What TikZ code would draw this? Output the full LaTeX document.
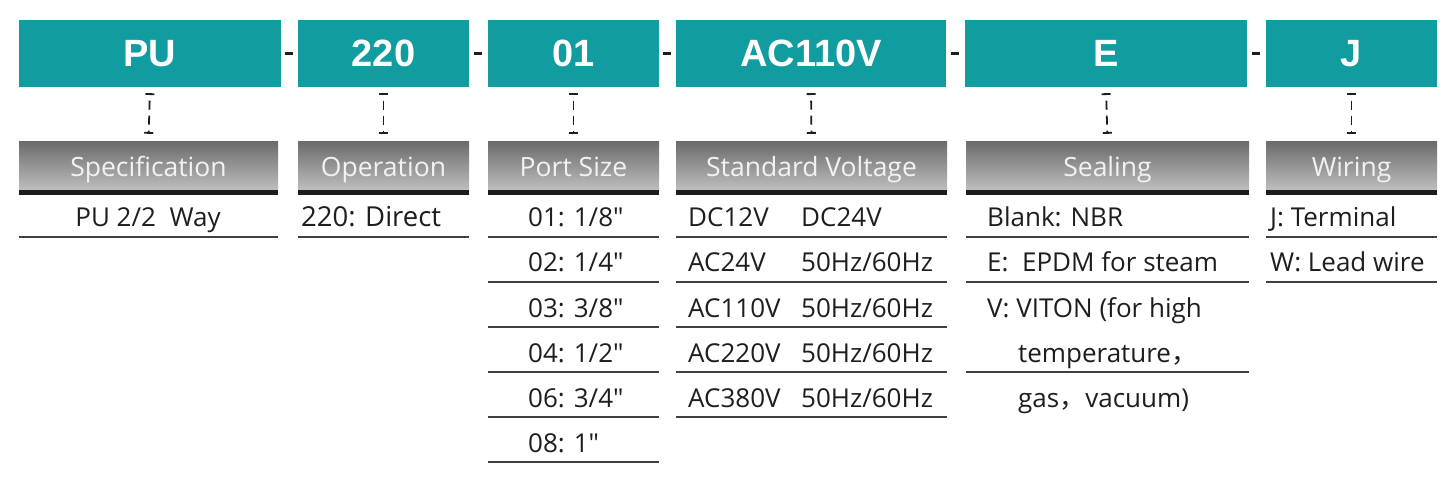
\documentclass[tikz,border=0pt]{standalone}
\usepackage{fontspec}
\setmainfont{Open Sans}
\newfontfamily\labfont{Liberation Sans}
\newfontfamily\cjk{Noto Sans CJK SC}
\usetikzlibrary{arrows.meta}
\definecolor{tealbg}{RGB}{17,156,159}
\definecolor{inkc}{RGB}{30,30,30}
\definecolor{barc}{RGB}{28,28,28}
\definecolor{graytop}{RGB}{108,108,108}
\definecolor{graybot}{RGB}{190,190,190}
\tikzset{
  codebox/.style={fill=tealbg, draw=none, minimum height=67pt, inner sep=0pt,
    text=white, font=\labfont\bfseries\fontsize{38}{40}\selectfont},
  headbox/.style={draw=none, top color=graytop, bottom color=graybot, minimum height=48pt,
    inner sep=0pt, text=white!95!black, text height=26pt, text depth=4pt,
    font=\fontsize{26.5}{30}\selectfont},
  sepline/.style={line width=2.6pt, draw=inkc},
  conn/.style={line width=1.8pt, draw=inkc, dash pattern=on 9pt off 6pt, dash phase=9pt,
    {Bar[width=9pt,line width=1.8pt]}-{Bar[width=9pt,line width=1.8pt]},
    shorten <=6pt, shorten >=8pt},
  rowtxt/.style={anchor=base west, inner sep=0pt, text=inkc, font=\fontsize{26}{30}\selectfont},
  rowline/.style={line width=1.5pt, draw=inkc!85},
}
\begin{document}
\begin{tikzpicture}[x=1pt,y=-1pt]
\useasboundingbox (0,0) rectangle (1442,478);
\fill[white] (0,0) rectangle (1442,478);
% code boxes
\node[codebox, minimum width=262pt] (pu)  at (150,53.5)  {PU};
\node[codebox, minimum width=171pt] (op)  at (383.5,53.5) {220};
\node[codebox, minimum width=171pt] (ps)  at (573.5,53.5) {01};
\node[codebox, minimum width=270pt] (sv)  at (811,53.5)  {AC110V};
\node[codebox, minimum width=282pt] (se)  at (1106,53.5) {E};
\node[codebox, minimum width=171pt] (wi)  at (1351.5,53.5) {J};
% separators
\draw[sepline, shorten <=4pt, shorten >=5pt] (pu.east) -- (op.west);
\draw[sepline, shorten <=5pt, shorten >=6pt] (op.east) -- (ps.west);
\draw[sepline, shorten <=4pt, shorten >=5pt] (ps.east) -- (sv.west);
\draw[sepline, shorten <=5pt, shorten >=6pt] (sv.east) -- (se.west);
\draw[sepline, shorten <=5pt, shorten >=6pt] (se.east) -- (wi.west);
% headers
\node[headbox, minimum width=259pt] (hpu) at (148.5,166) {Specification};
\node[headbox, minimum width=171pt] (hop) at (383.5,166) {Operation};
\node[headbox, minimum width=171pt] (hps) at (573.5,166) {Port Size};
\node[headbox, minimum width=271pt] (hsv) at (811.5,166) {Standard Voltage};
\node[headbox, minimum width=283pt] (hse) at (1107.5,166) {Sealing};
\node[headbox, minimum width=171pt] (hwi) at (1351.5,166) {Wiring};
\foreach \h in {hpu,hop,hps,hsv,hse,hwi}{
  \fill[barc] (\h.south west) rectangle ([yshift=-5pt]\h.south east);
}
% connectors
\draw[conn] (pu.south) -- (hpu.north);
\draw[conn] (op.south) -- (hop.north);
\draw[conn] (ps.south) -- (hps.north);
\draw[conn] (sv.south) -- (hsv.north);
\draw[conn] (se.south) -- (hse.north);
\draw[conn] (wi.south) -- (hwi.north);
% Specification
\node[rowtxt, anchor=base] (t1) at (148,227) {PU 2/2\ \ Way};
\draw[rowline] (19,237) -- (278,237);
% Operation
\node[rowtxt, font=\fontsize{27.5}{30}\selectfont] (t2) at (301,227) {220: Direct};
\draw[rowline] (298,237) -- (469,237);
% Port size
\foreach \t [count=\i from 0] in {01: 1/8″,02: 1/4″,03: 3/8″,04: 1/2″,06: 3/4″,08: 1″}{
  \node[rowtxt] (p\i) at (528,227+45*\i) {\t};
  \draw[rowline] (488,237+45*\i) -- (659,237+45*\i);
}
% Voltage
\foreach \a/\b [count=\i from 0] in {DC12V/DC24V,AC24V/{50Hz/60Hz},AC110V/{50Hz/60Hz},AC220V/{50Hz/60Hz},AC380V/{50Hz/60Hz}}{
  \node[rowtxt] (va\i) at (688,227+45*\i) {\a};
  \node[rowtxt] (vb\i) at (801,227+45*\i) {\b};
  \draw[rowline] (676,237+45*\i) -- (947,237+45*\i);
}
% Sealing
\node[rowtxt] (s0) at (987,227) {Blank: NBR};
\node[rowtxt] (s1) at (987,272) {E:\ \ EPDM for steam};
\node[rowtxt] (s2) at (987,317) {V: VITON (for high};
\node[rowtxt] (s3) at (1018,362) {temperature{\cjk ，}};
\node[rowtxt] (s4) at (1018,407) {gas{\cjk ，}vacuum)};
\draw[rowline] (966,237) -- (1249,237);
\draw[rowline] (966,282) -- (1249,282);
\draw[rowline] (966,372) -- (1249,372);
% Wiring
\node[rowtxt] (w0) at (1270,227) {J: Terminal};
\node[rowtxt] (w1) at (1270,272) {W: Lead wire};
\draw[rowline] (1266,237) -- (1437,237);
\draw[rowline] (1266,282) -- (1437,282);
\end{tikzpicture}
\end{document}
